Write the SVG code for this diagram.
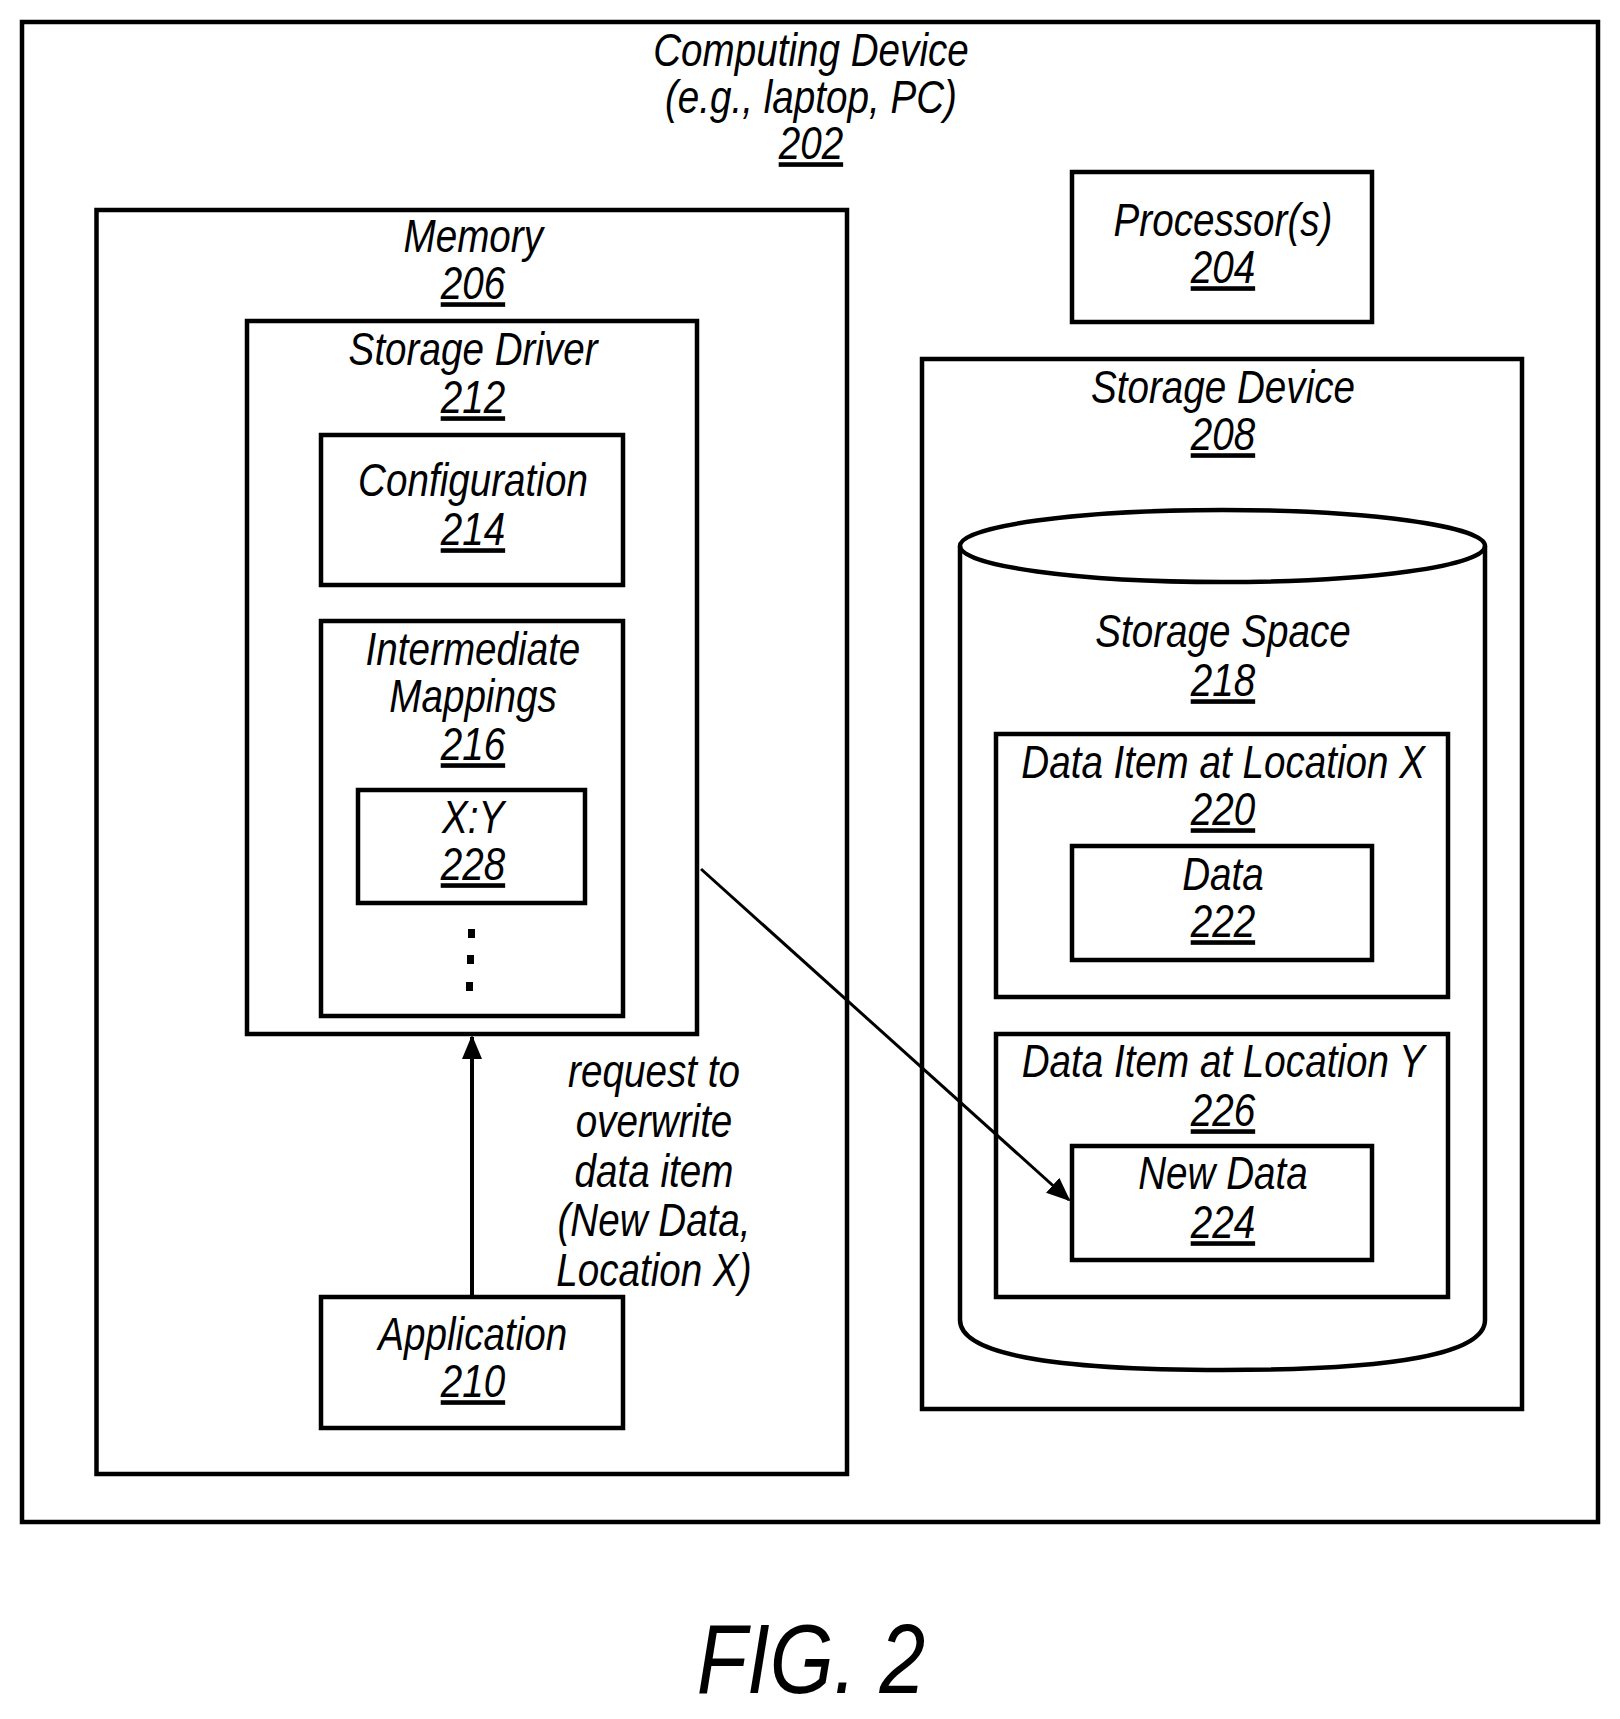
<svg xmlns="http://www.w3.org/2000/svg" width="1620" height="1719" viewBox="0 0 1620 1719">
<defs>
<style>
rect,.s{fill:none;stroke:#000;stroke-width:4.5}
text{font-family:"Liberation Sans",Arial,sans-serif;font-style:italic;font-size:46px;text-anchor:middle;fill:#000;transform-box:fill-box;transform-origin:center;transform:scaleX(0.84)}
.u{text-decoration:underline}
</style>
<marker id="ah" markerWidth="24" markerHeight="20" refX="22" refY="10" orient="auto" markerUnits="userSpaceOnUse" viewBox="0 0 24 20"><path d="M0,0 L24,10 L0,20 z" fill="#000"/></marker>
</defs>
<rect width="1620" height="1719" style="fill:#fff;stroke:none"/>
<g id="computing-device"><rect x="22" y="22" width="1576" height="1500"/>
<text x="811" y="66">Computing Device</text><text x="811" y="113">(e.g., laptop, PC)</text><text x="811" y="159" class="u">202</text></g>
<g id="memory"><rect x="96.5" y="210" width="750.5" height="1264"/>
<text x="473" y="252">Memory</text><text x="473" y="299" class="u">206</text></g>
<g id="storage-driver"><rect x="247" y="321" width="450" height="713"/>
<text x="473" y="365">Storage Driver</text><text x="473" y="413" class="u">212</text></g>
<g id="configuration"><rect x="321" y="435" width="302" height="150"/>
<text x="473" y="496">Configuration</text><text x="473" y="545" class="u">214</text></g>
<g id="intermediate-mappings"><rect x="321" y="621" width="302" height="395"/>
<text x="473" y="665">Intermediate</text><text x="473" y="712">Mappings</text><text x="473" y="760" class="u">216</text>
<rect x="468" y="929" width="7" height="9" style="fill:#000;stroke:none"/><rect x="467" y="955" width="7" height="9" style="fill:#000;stroke:none"/><rect x="466" y="982" width="7" height="9" style="fill:#000;stroke:none"/></g>
<g id="xy"><rect x="358" y="790" width="227" height="113"/>
<text x="473" y="833">X:Y</text><text x="473" y="880" class="u">228</text></g>
<g id="application"><rect x="321" y="1297" width="302" height="131"/>
<text x="473" y="1350">Application</text><text x="473" y="1397" class="u">210</text></g>
<g id="processor"><rect x="1072" y="172" width="300" height="150"/>
<text x="1223" y="236">Processor(s)</text><text x="1223" y="283" class="u">204</text></g>
<g id="storage-device"><rect x="922" y="359" width="600" height="1050"/>
<text x="1223" y="403">Storage Device</text><text x="1223" y="450" class="u">208</text></g>
<g id="storage-space">
<path class="s" d="M960,546 L960,1320 Q960,1370 1222.5,1370 Q1485,1370 1485,1320 L1485,546"/>
<ellipse class="s" cx="1222.5" cy="546" rx="262.5" ry="36"/>
<text x="1223" y="647">Storage Space</text><text x="1223" y="696" class="u">218</text></g>
<g id="data-item-x"><rect x="996" y="734" width="452" height="263"/>
<text x="1223" y="778">Data Item at Location X</text><text x="1223" y="825" class="u">220</text></g>
<g id="data"><rect x="1072" y="846" width="300" height="114"/>
<text x="1223" y="890">Data</text><text x="1223" y="937" class="u">222</text></g>
<g id="data-item-y"><rect x="996" y="1034" width="452" height="263"/>
<text x="1223" y="1077">Data Item at Location Y</text><text x="1223" y="1126" class="u">226</text></g>
<g id="new-data"><rect x="1072" y="1146" width="300" height="114"/>
<text x="1223" y="1189">New Data</text><text x="1223" y="1238" class="u">224</text></g>
<g id="connectors">
<line class="s" x1="472" y1="1297" x2="472" y2="1037" marker-end="url(#ah)" style="stroke-width:4"/>
<line class="s" x1="701" y1="869" x2="1069" y2="1200" marker-end="url(#ah)" style="stroke-width:3"/>
<text x="654" y="1087">request to</text><text x="654" y="1137">overwrite</text><text x="654" y="1187">data item</text><text x="654" y="1236">(New Data,</text><text x="654" y="1286">Location X)</text>
</g>
<text x="811" y="1693" style="font-size:98px">FIG. 2</text>
</svg>
